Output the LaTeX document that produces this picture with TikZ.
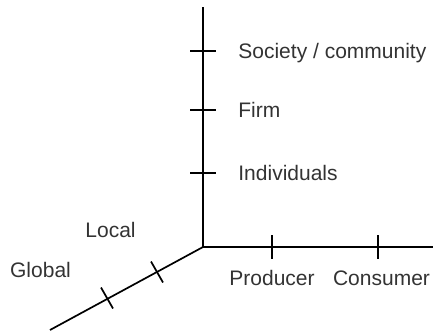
\documentclass[tikz,border=0pt]{standalone}
\usepackage{fontspec}
\setmainfont{Liberation Sans}
\begin{document}
\begin{tikzpicture}[x=0.5pt,y=-0.5pt,
  axis/.style={line width=0.85pt,black},
  lbl/.style={font=\fontsize{10.5}{12}\selectfont,text=black!80,inner sep=0pt}]
\useasboundingbox (0,0) rectangle (433,332);
% axes
\coordinate (O) at (203,247);
\coordinate (top) at (203,7);
\coordinate (right) at (433,247);
\coordinate (far) at (50,330);
\draw[axis] (top) -- (O) -- (right);
\draw[axis] (O) -- (far);
% vertical ticks
\coordinate (v1) at (203,173);
\coordinate (v2) at (203,110);
\coordinate (v3) at (203,51);
\foreach \c in {v1,v2,v3} \draw[axis] (\c) ++(-13,0) -- ++(26,0);
% horizontal ticks
\coordinate (h1) at (272,247);
\coordinate (h2) at (378,247);
\foreach \c in {h1,h2} \draw[axis] (\c) ++(0,-12) -- ++(0,24);
% diagonal ticks
\coordinate (d1) at (157,272);
\coordinate (d2) at (107,298);
\foreach \c in {d1,d2} \draw[axis] (\c) ++(-6,-10.5) -- ++(12,21);
% labels
\node[lbl,anchor=base west] (ind) at (238,180.5) {Individuals};
\node[lbl,anchor=base west] (firm) at (238,117.5) {Firm};
\node[lbl,anchor=base west] (soc) at (238,58.5) {Society / community};
\node[lbl,anchor=base] (prod) at (272,285) {Producer};
\node[lbl,anchor=base] (cons) at (381.5,285) {Consumer};
\node[lbl,anchor=base] (loc) at (110.5,237) {Local};
\node[lbl,anchor=base] (glob) at (40.5,277) {Global};
\end{tikzpicture}
\end{document}
